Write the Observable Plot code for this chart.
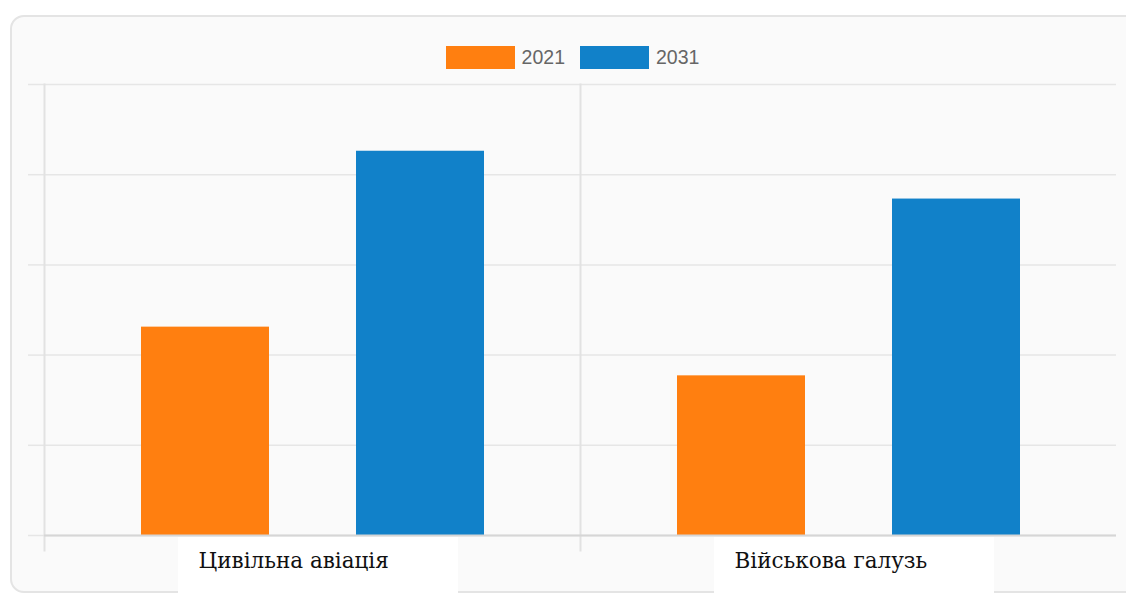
<!DOCTYPE html>
<html>
<head>
<meta charset="utf-8">
<script src="https://cdn.jsdelivr.net/npm/d3@7"></script>
<script src="https://cdn.jsdelivr.net/npm/@observablehq/plot@0.6"></script>
<style>
  html, body { margin: 0; padding: 0; background: #fff; width: 1126px; height: 595px; overflow: hidden; position: relative; }
  #card { position: absolute; left: 10px; top: 15px; width: 1140px; height: 574px; border: 2px solid #e4e4e4; border-radius: 14px; background: #fafafa; box-sizing: content-box; }
  #legend { position: absolute; left: 0; top: 41px; width: 1145px; display: flex; justify-content: center; z-index: 2; }
  #chart { position: absolute; left: 0; top: 0; z-index: 1; }
  .lg-swatches { font-family: "Liberation Sans", Arial, sans-serif !important; font-size: 19.5px !important; color: #666 !important; margin: 0 !important; min-height: 33px; }
  .lg-swatch { margin-right: 15px !important; }
  .lg-swatch:last-child { margin-right: 0 !important; }
  .lg-swatch > svg { margin-right: 7px !important; }
</style>
</head>
<body>
<div id="card"></div>
<div id="legend"></div>
<div id="chart"></div>
<script>
const categories = ["Цивільна авіація", "Військова галузь"];
const years = ["2021", "2031"];
const values2021 = [2.31, 1.77];
const values2031 = [4.26, 3.73];
const yTicks = [0, 1, 2, 3, 4, 5];
const colors = ["#ff7f10", "#1181c9"];

const data = [];
categories.forEach((c, i) => {
  data.push({category: c, year: years[0], value: values2021[i]});
  data.push({category: c, year: years[1], value: values2031[i]});
});

const legend = Plot.legend({
  color: {domain: years, range: colors},
  swatchWidth: 69,
  swatchHeight: 23,
  className: "lg"
});
document.getElementById("legend").appendChild(legend);

const plot = Plot.plot({
  width: 1126,
  height: 595,
  marginLeft: 44,
  marginRight: 10,
  marginTop: 84,
  marginBottom: 60,
  style: {background: "transparent"},
  fx: {domain: categories, padding: 0},
  x: {domain: years, paddingInner: 0.405, paddingOuter: 0.449, axis: null},
  y: {domain: [0, 5]},
  color: {domain: years, range: colors},
  marks: [
    Plot.gridY(yTicks, {stroke: "#e6e6e6", strokeOpacity: 1, strokeWidth: 1.5}),
    Plot.axisY(yTicks, {tickSize: 16, tickFormat: () => "", stroke: "#e6e6e6", strokeOpacity: 1, strokeWidth: 1.5, label: null}),
    Plot.frame({anchor: "left", stroke: "#e2e2e2", strokeWidth: 2, insetBottom: -15}),
    Plot.barY(data, {fx: "category", x: "year", y: "value", fill: "year"}),
    Plot.ruleY([0], {stroke: "#d6d6d6", strokeWidth: 2}),
    Plot.axisFx({anchor: "bottom", tickSize: 0, tickPadding: 17, label: null,
      fontSize: 21.5, fontFamily: "DejaVu Serif", fill: "#111", textAnchor: "start", dx: -114})
  ]
});
document.getElementById("chart").appendChild(plot);

// white label boxes under category labels
const fx = plot.scale("fx");
const svg = d3.select(plot);
const g = svg.insert("g", ":first-child");
categories.forEach(c => {
  const center = fx.apply(c) + fx.bandwidth / 2;
  g.append("rect")
    .attr("x", center - 134)
    .attr("y", 537)
    .attr("width", 280)
    .attr("height", 60)
    .attr("fill", "#ffffff");
});
</script>
</body>
</html>
